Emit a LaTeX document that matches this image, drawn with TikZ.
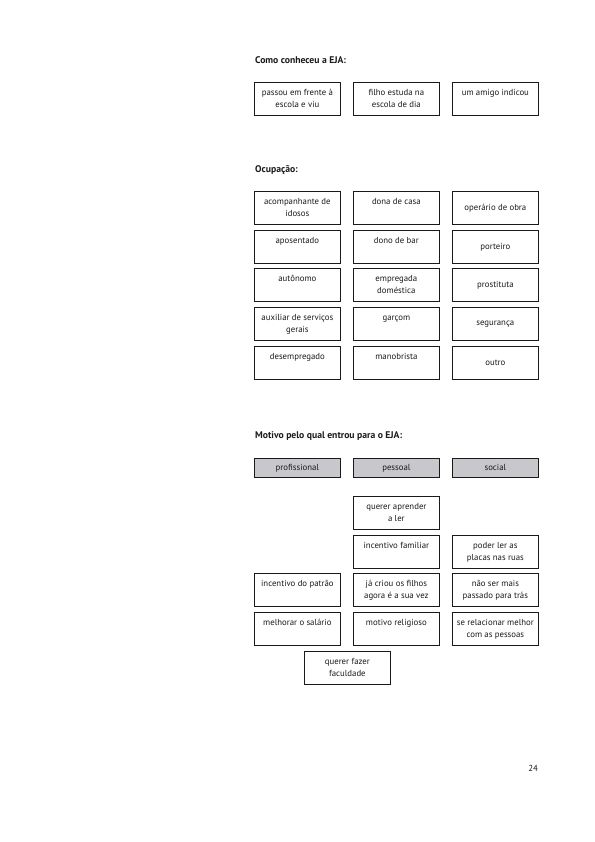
\documentclass[tikz,border=0pt]{standalone}
\usepackage{fontspec}
\setmainfont{PT Sans}
\definecolor{catgray}{HTML}{C8C8CC}
\definecolor{ink}{HTML}{1A1A1A}
\newcommand\boxtop[1]{\parbox[c][33bp][t]{86bp}{\centering\rule{0pt}{12.8bp}#1}}
\newcommand\boxmid[1]{\parbox[c][33bp][c]{86bp}{\centering #1}}
\tikzset{
  bx/.style={draw=ink, line width=0.75pt, inner sep=0pt, anchor=north west, text=ink,
    font=\fontsize{8.8}{12.2}\selectfont},
  gbx/.style={bx, fill=catgray, minimum width=86bp, minimum height=19bp},
  hd/.style={anchor=base west, inner sep=0pt, text=ink, font=\bfseries\fontsize{9.7}{11}\selectfont},
}
\begin{document}
\begin{tikzpicture}[x=1bp, y=-1bp]
\useasboundingbox (0,0) rectangle (595,842);
% Section 1
\node[hd] (h1) at (255,63) {Como conheceu a EJA:};
\node[bx] (a1) at (254,82) {\boxtop{passou em frente à\\escola e viu}};
\node[bx] (a2) at (353,82) {\boxtop{filho estuda na\\escola de dia}};
\node[bx] (a3) at (452,82) {\boxtop{um amigo indicou}};
% Section 2
\node[hd] (h2) at (255,172) {Ocupação:};
\node[bx] (o11) at (254,191) {\boxtop{acompanhante de\\idosos}};
\node[bx] (o12) at (353,191) {\boxtop{dona de casa}};
\node[bx] (o13) at (452,191) {\boxmid{operário de obra}};
\node[bx] (o21) at (254,230) {\boxtop{aposentado}};
\node[bx] (o22) at (353,230) {\boxtop{dono de bar}};
\node[bx] (o23) at (452,230) {\boxmid{porteiro}};
\node[bx] (o31) at (254,268) {\boxtop{autônomo}};
\node[bx] (o32) at (353,268) {\boxtop{empregada\\doméstica}};
\node[bx] (o33) at (452,268) {\boxmid{prostituta}};
\node[bx] (o41) at (254,307) {\boxtop{auxiliar de serviços\\gerais}};
\node[bx] (o42) at (353,307) {\boxtop{garçom}};
\node[bx] (o43) at (452,307) {\boxmid{segurança}};
\node[bx] (o51) at (254,346) {\boxtop{desempregado}};
\node[bx] (o52) at (353,346) {\boxtop{manobrista}};
\node[bx] (o53) at (452,346) {\boxmid{outro}};
% Section 3
\node[hd] (h3) at (255,438) {Motivo pelo qual entrou para o EJA:};
\node[gbx] (g1) at (254,458) {profissional};
\node[gbx] (g2) at (353,458) {pessoal};
\node[gbx] (g3) at (452,458) {social};
\node[bx] (m12) at (353,496) {\boxtop{querer aprender\\a ler}};
\node[bx] (m22) at (353,535) {\boxtop{incentivo familiar}};
\node[bx] (m23) at (452,535) {\boxtop{poder ler as\\placas nas ruas}};
\node[bx] (m31) at (254,573) {\boxtop{incentivo do patrão}};
\node[bx] (m32) at (353,573) {\boxtop{já criou os filhos\\agora é a sua vez}};
\node[bx] (m33) at (452,573) {\boxtop{não ser mais\\passado para trás}};
\node[bx] (m41) at (254,612) {\boxtop{melhorar o salário}};
\node[bx] (m42) at (353,612) {\boxtop{motivo religioso}};
\node[bx] (m43) at (452,612) {\boxtop{se relacionar melhor\\com as pessoas}};
\node[bx] (m5) at (304,651) {\boxtop{querer fazer\\faculdade}};
% page number
\node[anchor=base east, inner sep=0pt, text=ink, font=\fontsize{8.8}{10}\selectfont] (pn) at (538,771) {24};
\end{tikzpicture}
\end{document}
